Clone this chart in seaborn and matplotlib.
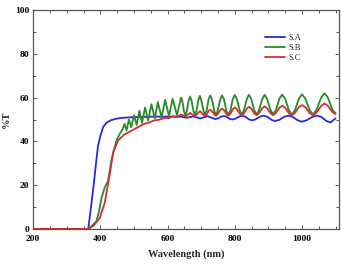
import pandas as pd
import matplotlib.pyplot as plt
import seaborn as sns

# transmission spectra (wavelength nm, %T)
wl_a = [200, 364, 372, 380, 387, 393, 400, 408, 418, 430, 445, 465, 490, 520, 560,
        600, 640, 657, 677, 697, 719, 742, 750, 759, 767, 775, 785, 793, 802, 813,
        822, 831, 843, 852, 862, 875, 885, 896, 910, 920, 932, 948, 960, 972, 988,
        1000, 1013, 1031, 1045, 1057, 1073, 1085, 1100]
t_a = [0, 0, 10, 20, 30, 38, 42.5, 46.5, 48.5, 49.6, 50.3, 50.8, 51.0, 51.2, 51.3,
       51.3, 51.3, 50.8, 51.4, 50.5, 51.5, 50.2, 50.5, 51.3, 51.6, 51.3, 50.3, 50.0, 50.4, 51.3,
       51.7, 51.3, 50.0, 49.6, 50.1, 51.3, 51.8, 51.3, 49.8, 49.3, 49.8, 51.3, 51.8, 51.2, 49.6,
       49.0, 49.6, 51.2, 51.8, 51.2, 49.3, 48.7, 50.5]

wl_b = [200, 365, 375, 388, 396, 403, 413, 423, 433, 448, 458, 466,
        472, 478, 485, 492, 500, 508, 516, 524, 533, 542, 552, 562, 571, 582,
        593, 604, 615, 628, 640, 644, 649, 653, 657, 663, 667, 671, 677, 681,
        686, 692, 696, 700, 707, 711, 716, 722, 727, 732, 739, 744, 749, 757,
        762, 768, 775, 781, 787, 794, 800, 806, 815, 821, 827, 836, 842, 849,
        858, 865, 872, 882, 889, 896, 907, 914, 922, 933, 941, 950, 961, 970,
        979, 991, 1000, 1010, 1023, 1033, 1043, 1057, 1067, 1077, 1090, 1100]
t_b = [0, 0, 1.5, 3.5, 8, 14, 19, 22, 31.5, 40.5, 43.5, 45.5,
       48, 45, 50, 46.5, 52, 47.5, 54, 48.5, 55.5, 49.5, 57, 50.5, 58, 51,
       59, 51.5, 59.5, 52, 60, 58.4, 53.6, 52, 53.7, 58.8, 60.5, 58.8, 53.9, 52.2,
       54.0, 59.0, 60.8, 59.0, 54.0, 52.2, 54.0, 59.2, 61, 59.2, 54.0, 52.2, 54.0, 59.2,
       61, 59.2, 54.0, 52.2, 54.1, 59.3, 61.2, 59.4, 54.1, 52.3, 54.2, 59.4, 61.3, 59.4,
       54.2, 52.3, 54.2, 59.4, 61.3, 59.4, 54.2, 52.3, 54.2, 59.5, 61.4, 59.5, 54.2, 52.3,
       54.2, 59.6, 61.5, 59.6, 54.2, 52.3, 54.3, 60.0, 62, 60.1, 54.7, 52.8]

wl_c = [200, 364, 380, 398, 413, 428, 438, 453, 470, 488, 500, 515, 530, 545,
        560, 575, 593, 604, 615, 628, 640, 653, 667, 681, 696, 700, 707, 711,
        716, 722, 727, 732, 739, 744, 749, 757, 762, 768, 775, 781, 787, 794,
        800, 806, 815, 821, 827, 836, 842, 849, 858, 865, 872, 882, 889, 896,
        907, 914, 922, 933, 941, 950, 961, 970, 979, 991, 1000, 1010, 1023, 1033,
        1043, 1057, 1067, 1077, 1090, 1100]
t_c = [0, 0, 1.5, 5, 12, 25, 35, 40.5, 43, 44.5, 45.5, 46.8, 48, 48.6,
       49.6, 49.9, 50.8, 50.6, 51.5, 51.2, 52.3, 51.4, 53, 51.5, 53.8, 53.3, 52.1, 51.6,
       52.2, 53.9, 54.5, 53.9, 52.3, 51.7, 52.4, 54.3, 55, 54.3, 52.5, 51.8, 52.6, 54.7,
       55.5, 54.8, 52.6, 51.9, 52.7, 55.0, 55.8, 55.0, 52.8, 52, 52.8, 55.2, 56, 55.2,
       52.8, 52, 52.9, 55.4, 56.3, 55.4, 52.9, 52, 52.9, 55.7, 56.6, 55.7, 52.9, 52,
       53.1, 56.2, 57.3, 56.3, 53.5, 52.5]

df = pd.concat([
    pd.DataFrame({"wl": wl_a, "T": t_a, "sample": "S.A"}),
    pd.DataFrame({"wl": wl_b, "T": t_b, "sample": "S.B"}),
    pd.DataFrame({"wl": wl_c, "T": t_c, "sample": "S.C"}),
])

sns.set_style("ticks")
plt.rcParams['font.family'] = ['Liberation Serif', 'DejaVu Serif']

fig = plt.figure(figsize=(3.42, 2.65), dpi=100)
ax = fig.add_axes([0.097, 0.136, 0.894, 0.826])

sns.lineplot(data=df, x="wl", y="T", hue="sample", estimator=None, sort=False,
             palette=["#2b2bd4", "#2a8a2a", "#d42f2f"], linewidth=1.3, ax=ax)

ax.set_xlim(200, 1110)
ax.set_ylim(0, 100)
ax.set_xticks([200, 400, 600, 800, 1000])
ax.set_yticks([0, 20, 40, 60, 80, 100])
ax.set_xticks(range(250, 1110, 50), minor=True)
ax.set_yticks(range(10, 100, 20), minor=True)
ax.tick_params(which="both", direction="in", top=True, right=True, colors="#555555",
               labelcolor="black", width=0.7)
ax.tick_params(which="major", length=3, labelsize=6.8)
ax.tick_params(axis="x", which="major", pad=4)
ax.tick_params(axis="y", which="major", pad=3)
ax.tick_params(which="minor", length=2)
for lab in ax.get_xticklabels() + ax.get_yticklabels():
    lab.set_fontweight("bold")
for s in ax.spines.values():
    s.set_color("#555555")
    s.set_linewidth(0.9)

ax.set_xlabel("Wavelength (nm)", fontsize=7.5, fontweight="bold", labelpad=5)
ax.set_ylabel("%T", fontsize=7.5, fontweight="bold", labelpad=3)

ax.legend(loc="upper right", bbox_to_anchor=(0.90, 0.925), frameon=False,
          fontsize=6, handlelength=2.4, labelspacing=0.25, handletextpad=0.4)

fig.savefig("out.png", dpi=100)
